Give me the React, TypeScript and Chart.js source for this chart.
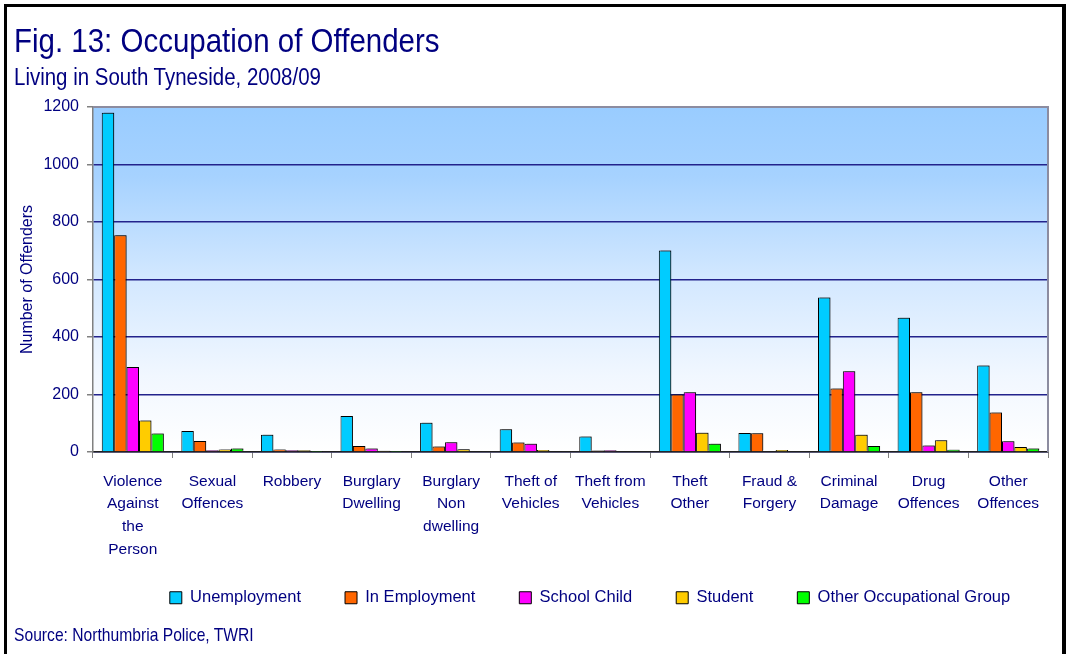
import React, { useEffect, useRef } from 'react';
import { Chart, registerables } from 'chart.js';

Chart.register(...registerables);

// ---- data ----
const categories: (string | string[])[] = [
  ['Violence', 'Against', 'the', 'Person'],
  ['Sexual', 'Offences'],
  'Robbery',
  ['Burglary', 'Dwelling'],
  ['Burglary', 'Non', 'dwelling'],
  ['Theft of', 'Vehicles'],
  ['Theft from', 'Vehicles'],
  ['Theft', 'Other'],
  ['Fraud &', 'Forgery'],
  ['Criminal', 'Damage'],
  ['Drug', 'Offences'],
  ['Other', 'Offences'],
];
const seriesNames = ['Unemployment', 'In Employment', 'School Child', 'Student', 'Other Occupational Group'];
const unemployment = [1180, 73, 60, 125, 102, 79, 54, 701, 66, 537, 467, 301];
const inEmployment = [754, 38, 9, 21, 19, 33, 5, 200, 65, 221, 208, 137];
const schoolChild = [296, 6, 6, 12, 34, 29, 6, 208, 3, 281, 23, 37];
const student = [110, 9, 6, 4, 10, 7, 2, 67, 7, 60, 41, 17];
const otherGroup = [64, 12, 1, 1, 2, 2, 2, 29, 3, 21, 8, 12];
const yMin = 0;
const yMax = 1200;
const yStep = 200;

const titleText = 'Fig. 13: Occupation of Offenders';
const subtitleText = 'Living in South Tyneside, 2008/09';
const yTitleText = 'Number of Offenders';
const sourceText = 'Source: Northumbria Police, TWRI';

// ---- styles ----
const seriesColors = ['#00CCFF', '#FF6600', '#FF00FF', '#FFCC00', '#00FF00'];
const NAVY = '#000080';
const REG = '"Liberation Sans", Arial, sans-serif';
const LEGEND_DX = 66;
const LEGEND_DY = -26.5;

const plotBg = {
  id: 'plotBg',
  beforeDraw(chart: any) {
    const { ctx, chartArea: a } = chart;
    if (!a) return;
    const g = ctx.createLinearGradient(0, a.top, 0, a.bottom);
    g.addColorStop(0, '#99CCFF');
    g.addColorStop(0.2, '#A6D2FF');
    g.addColorStop(0.5, '#D3E8FF');
    g.addColorStop(0.78, '#F1F7FF');
    g.addColorStop(1, '#FFFFFF');
    ctx.save();
    ctx.fillStyle = g;
    ctx.fillRect(a.left, a.top, a.right - a.left, a.bottom - a.top);
    ctx.restore();
  },
  beforeDatasetsDraw(chart: any) {
    const { ctx, chartArea: a } = chart;
    ctx.save();
    ctx.strokeStyle = '#8C8CA0';
    ctx.lineWidth = 2;
    ctx.beginPath();
    ctx.moveTo(a.left, a.top);
    ctx.lineTo(a.right, a.top);
    ctx.lineTo(a.right, a.bottom);
    ctx.stroke();
    ctx.restore();
    ctx.save();
    ctx.shadowColor = 'rgba(0,0,0,0.35)';
    ctx.shadowOffsetX = 2;
    ctx.shadowOffsetY = -1;
    ctx.shadowBlur = 0;
  },
  afterDatasetsDraw(chart: any) {
    chart.ctx.restore();
  },
};

const legendShift = {
  id: 'legendShift',
  afterLayout(chart: any) {
    const l = chart.legend;
    if (!l) return;
    l.left += LEGEND_DX;
    l.right += LEGEND_DX;
    l.top += LEGEND_DY;
    l.bottom += LEGEND_DY;
  },
};

export default function App() {
  const ref = useRef<HTMLCanvasElement | null>(null);

  useEffect(() => {
    document.body.style.margin = '0';
    const canvas = ref.current;
    if (!canvas) return;
    const values = [unemployment, inEmployment, schoolChild, student, otherGroup];
    const chart = new Chart(canvas, {
      type: 'bar',
      data: {
        labels: categories,
        datasets: seriesNames.map((name, i) => ({
          label: name,
          data: values[i],
          backgroundColor: seriesColors[i],
          borderColor: '#000000',
          borderWidth: 1,
          barPercentage: 1,
          categoryPercentage: 0.78,
        })),
      },
      options: {
        responsive: false,
        animation: false,
        devicePixelRatio: 1,
        layout: { padding: { left: 0, right: 18, top: 107, bottom: 11.5 } },
        plugins: {
          title: { display: false },
          tooltip: { enabled: false },
          legend: {
            display: true,
            position: 'bottom',
            align: 'center',
            labels: {
              boxWidth: 12,
              boxHeight: 12,
              padding: 44,
              color: NAVY,
              font: { family: REG, size: 16.5 },
            },
          },
        },
        scales: {
          x: {
            grid: {
              drawOnChartArea: false,
              drawTicks: true,
              tickLength: 6,
              tickColor: '#808080',
              offset: true,
            },
            border: { color: '#202020', width: 1.5 },
            ticks: {
              color: NAVY,
              autoSkip: false,
              maxRotation: 0,
              minRotation: 0,
              padding: 12,
              font: { family: REG, size: 15.5, lineHeight: 1.465 },
            },
            afterFit(scale: any) {
              scale.height = 120;
            },
          },
          y: {
            min: yMin,
            max: yMax,
            grid: {
              color: (c: any) => (c.tick && c.tick.value === yMax ? 'rgba(0,0,0,0)' : '#22228C'),
              lineWidth: 1.5,
              tickColor: '#808080',
              tickLength: 6,
            },
            border: { color: '#808080', width: 1.5 },
            ticks: {
              stepSize: yStep,
              color: NAVY,
              padding: 8,
              font: { family: REG, size: 16 },
              callback: (v: any) => String(v),
            },
            title: {
              display: true,
              text: yTitleText,
              color: NAVY,
              font: { family: REG, size: 16 },
              padding: { top: 18, bottom: 0 },
            },
            afterFit(scale: any) {
              scale.width = 93;
            },
          },
        },
      },
      plugins: [plotBg, legendShift],
    } as any);
    return () => chart.destroy();
  }, []);

  const textBase: React.CSSProperties = {
    position: 'absolute',
    left: 14,
    color: NAVY,
    fontFamily: REG,
    lineHeight: 1,
    whiteSpace: 'nowrap',
    transformOrigin: '0 0',
  };

  return (
    <div style={{ position: 'absolute', left: 0, top: 0, width: 1066, height: 654, overflow: 'hidden', background: '#ffffff' }}>
      <div
        style={{
          position: 'absolute',
          left: 4,
          top: 4,
          width: 1062,
          height: 720,
          boxSizing: 'border-box',
          borderLeft: '3px solid #000',
          borderTop: '3px solid #000',
          borderRight: '4px solid #000',
        }}
      />
      <canvas ref={ref} width={1066} height={654} style={{ position: 'absolute', left: 0, top: 0, width: 1066, height: 654 }} />
      <div style={{ ...textBase, top: 23.6, fontSize: 33.5, transform: 'scaleX(0.88)' }}>{titleText}</div>
      <div style={{ ...textBase, top: 65.5, fontSize: 23, transform: 'scaleX(0.89)' }}>{subtitleText}</div>
      <div style={{ ...textBase, top: 626.6, fontSize: 17.8, transform: 'scaleX(0.88)' }}>{sourceText}</div>
    </div>
  );
}
